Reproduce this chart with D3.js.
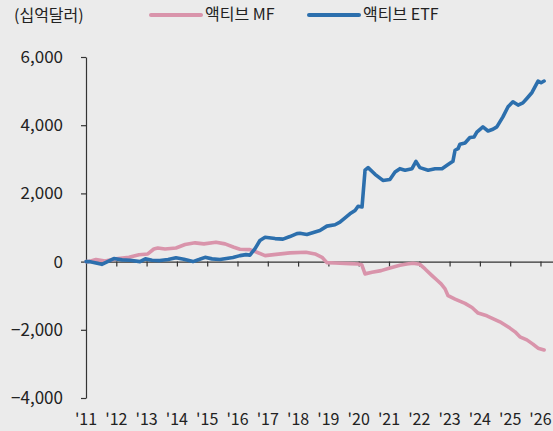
<!DOCTYPE html>
<html>
<head>
<meta charset="utf-8">
<script src="https://cdn.jsdelivr.net/npm/d3@7"></script>
<style>
  html, body { margin: 0; padding: 0; background: #ebebeb; }
  svg { display: block; }
  text { font-family: "Noto Sans CJK KR", "Noto Sans", sans-serif; fill: #222; }
</style>
</head>
<body>
<svg id="chart" width="553" height="431"></svg>
<script>
// Cumulative net flows (billion USD), time in decimal years
const etfT = [2011.00, 2011.10, 2011.52, 2011.92, 2012.19, 2012.45, 2012.78, 2012.96, 2013.18, 2013.44,
  2013.71, 2013.97, 2014.23, 2014.53, 2014.73, 2014.93, 2015.16, 2015.42, 2015.85, 2016.08,
  2016.28, 2016.41, 2016.58, 2016.74, 2016.91, 2017.24, 2017.50, 2017.73, 2017.96, 2018.06,
  2018.29, 2018.72, 2018.95, 2019.22, 2019.38, 2019.71, 2019.88, 2019.98, 2020.11, 2020.21,
  2020.31, 2020.54, 2020.80, 2021.03, 2021.20, 2021.36, 2021.53, 2021.76, 2021.89, 2022.02,
  2022.29, 2022.52, 2022.75, 2022.95, 2023.11, 2023.18, 2023.28, 2023.34, 2023.51, 2023.67,
  2023.81, 2023.90, 2024.10, 2024.27, 2024.43, 2024.56, 2024.76, 2024.93, 2025.09, 2025.26,
  2025.42, 2025.55, 2025.72, 2025.92, 2026.02, 2026.12];
const etfValues = [0, 0, -80, 90, 50, 40, 0, 80, 40, 30,
  60, 110, 70, 0, 60, 125, 80, 60, 120, 175,
  205, 190, 380, 620, 715, 675, 660, 735, 820, 830,
  795, 910, 1040, 1080, 1155, 1400, 1500, 1625, 1600, 2680,
  2755, 2560, 2380, 2410, 2625, 2725, 2680, 2725, 2940, 2755,
  2680, 2725, 2725, 2845, 2940, 3265, 3310, 3440, 3480, 3640,
  3655, 3800, 3950, 3830, 3880, 3950, 4245, 4540, 4685, 4590,
  4655, 4785, 4960, 5295, 5245, 5295];

const mfT = [2011.00, 2011.10, 2011.33, 2011.63, 2011.99, 2012.42, 2012.75, 2013.04, 2013.24, 2013.37,
  2013.61, 2013.97, 2014.27, 2014.60, 2014.89, 2015.29, 2015.59, 2015.88, 2016.08, 2016.41,
  2016.64, 2016.91, 2017.20, 2017.73, 2018.26, 2018.56, 2018.79, 2018.95, 2019.22, 2019.71,
  2019.98, 2020.10, 2020.21, 2020.44, 2020.74, 2021.03, 2021.36, 2021.59, 2021.79, 2022.02,
  2022.19, 2022.42, 2022.58, 2022.72, 2022.85, 2022.95, 2023.18, 2023.51, 2023.74, 2023.94,
  2024.23, 2024.66, 2024.99, 2025.16, 2025.32, 2025.55, 2025.75, 2025.92, 2026.12];
const mfValues = [0, 0, 60, 15, 80, 125, 200, 225, 370, 400,
  370, 400, 500, 550, 520, 570, 520, 420, 360, 350,
  275, 175, 205, 255, 275, 225, 125, -30, -40, -60,
  -70, -90, -360, -315, -265, -185, -110, -70, -50, -80,
  -215, -410, -540, -655, -800, -1000, -1100, -1225, -1345, -1510,
  -1590, -1765, -1950, -2060, -2205, -2295, -2420, -2540, -2590];

const yTicks = [-4000, -2000, 0, 2000, 4000, 6000];
const yearTicks = [2011, 2012, 2013, 2014, 2015, 2016, 2017, 2018, 2019, 2020, 2021, 2022, 2023, 2024, 2025, 2026];
const yearLabels = ["'11", "'12", "'13", "'14", "'15", "'16", "'17", "'18", "'19", "'20", "'21", "'22", "'23", "'24", "'25", "'26"];

const seriesNames = ["액티브 MF", "액티브 ETF"];
const seriesColors = ["#d994ab", "#2c6fad"];
const unitLabel = "(십억달러)";

const svg = d3.select("#chart");
const left = 86;

const x = d3.scaleLinear().domain([2011, 2026.4]).range([left, 552.6]);
const y = d3.scaleLinear().domain([-4000, 6000]).range([398, 57]);

// y axis
const yAxis = svg.append("g")
  .attr("transform", `translate(${left},0)`)
  .call(d3.axisLeft(y).tickValues(yTicks).tickFormat(d3.format(",")).tickSize(5).tickPadding(18).tickSizeOuter(0));
yAxis.selectAll("text").style("font-size", "17px").attr("fill", "#222");
yAxis.selectAll("line, path").attr("stroke", "#333").attr("stroke-width", 1.2);

// x axis along zero
const xAxis = svg.append("g")
  .attr("transform", `translate(0,${y(0)})`)
  .call(d3.axisBottom(x).tickValues(yearTicks.slice(1)).tickFormat("").tickSize(5).tickSizeOuter(0));
xAxis.selectAll("line, path").attr("stroke", "#333").attr("stroke-width", 1.2);

// year labels along the bottom
svg.append("g").selectAll("text")
  .data(yearTicks)
  .join("text")
  .attr("x", d => x(d))
  .attr("y", 425)
  .attr("text-anchor", "middle")
  .style("font-size", "16px")
  .text((d, i) => yearLabels[i]);

// series lines
const line = d3.line().x(d => x(d[0])).y(d => y(d[1])).curve(d3.curveLinear);
const mfData = mfT.map((t, i) => [t, mfValues[i]]);
const etfData = etfT.map((t, i) => [t, etfValues[i]]);

[mfData, etfData].forEach((data, i) => {
  svg.append("path")
    .datum(data)
    .attr("fill", "none")
    .attr("stroke", seriesColors[i])
    .attr("stroke-width", 3.6)
    .attr("stroke-linejoin", "round")
    .attr("stroke-linecap", "round")
    .attr("d", line);
});

// unit label
svg.append("text")
  .attr("x", 14)
  .attr("y", 21)
  .style("font-size", "16px")
  .text(unitLabel);

// legend
const legendX = [151, 309];
seriesNames.forEach((name, i) => {
  const g = svg.append("g").attr("transform", `translate(${legendX[i]},15)`);
  g.append("line")
    .attr("x1", 0).attr("x2", 50)
    .attr("stroke", seriesColors[i])
    .attr("stroke-width", 4)
    .attr("stroke-linecap", "round");
  g.append("text")
    .attr("x", 54)
    .attr("y", 5)
    .style("font-size", "16px")
    .text(name);
});
</script>
</body>
</html>
